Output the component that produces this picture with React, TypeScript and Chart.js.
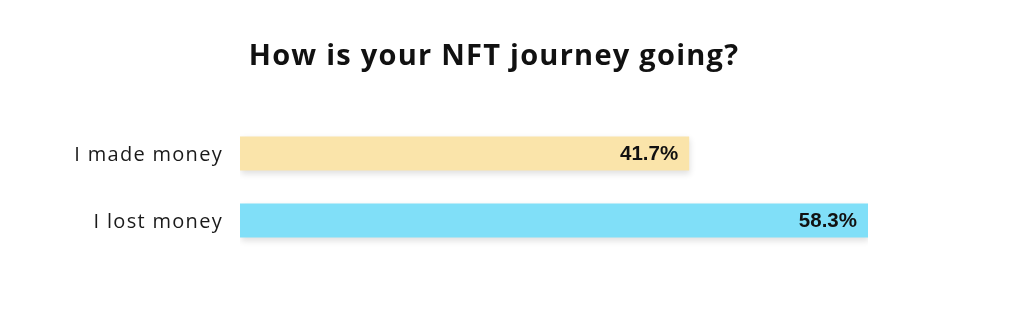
import React, { useEffect, useRef } from "react";
import { Chart, registerables } from "chart.js";

Chart.register(...registerables);

const titleText = "How is your NFT journey going?";
const categories = ["I made money", "I lost money"];
const values = [41.7, 58.3];
const valueLabels = ["41.7%", "58.3%"];
const barColors = ["#FAE4AA", "#80DFF8"];

const spacingPlugin = {
  id: "tickSpacing",
  beforeDraw(chart: any) {
    chart.ctx.letterSpacing = "1.3px";
  },
  beforeDatasetsDraw(chart: any) {
    chart.ctx.letterSpacing = "0px";
  },
};

const shadowPlugin = {
  id: "barShadow",
  beforeDatasetsDraw(chart: any) {
    const ctx = chart.ctx;
    ctx.save();
    ctx.shadowColor = "rgba(0,0,0,0.12)";
    ctx.shadowBlur = 6;
    ctx.shadowOffsetX = 1;
    ctx.shadowOffsetY = 3;
  },
  afterDatasetsDraw(chart: any) {
    chart.ctx.restore();
  },
};

const valueLabelPlugin = {
  id: "valueLabels",
  afterDatasetsDraw(chart: any) {
    const ctx = chart.ctx;
    const meta = chart.getDatasetMeta(0);
    ctx.save();
    ctx.letterSpacing = "0px";
    ctx.font = "bold 20.5px 'Liberation Sans', Arial, sans-serif";
    ctx.fillStyle = "#111111";
    ctx.textAlign = "right";
    ctx.textBaseline = "middle";
    meta.data.forEach((bar: any, i: number) => {
      ctx.fillText(valueLabels[i], bar.x - 11, bar.y + 1);
    });
    ctx.restore();
  },
};

const titlePlugin = {
  id: "customTitle",
  afterDraw(chart: any) {
    const ctx = chart.ctx;
    ctx.save();
    ctx.letterSpacing = "1.25px";
    ctx.font = "bold 29px 'Open Sans', sans-serif";
    ctx.fillStyle = "#111111";
    ctx.textAlign = "center";
    ctx.textBaseline = "alphabetic";
    ctx.fillText(titleText, 494, 65);
    ctx.restore();
  },
};

export default function App() {
  const ref = useRef<HTMLCanvasElement | null>(null);
  useEffect(() => {
    if (!ref.current) return;
    const chart = new Chart(ref.current, {
      type: "bar",
      data: {
        labels: categories,
        datasets: [
          {
            data: values,
            backgroundColor: barColors,
            borderWidth: 0,
            barPercentage: 0.51,
            categoryPercentage: 1,
          },
        ],
      },
      options: {
        indexAxis: "y",
        animation: false,
        responsive: false,
        maintainAspectRatio: false,
        layout: { padding: { left: 0, right: 156, top: 120, bottom: 58 } },
        plugins: {
          legend: { display: false },
          tooltip: { enabled: false },
          title: { display: false },
        },
        scales: {
          x: {
            display: false,
            min: 0,
            max: 58.3,
            grid: { display: false },
          },
          y: {
            grid: { display: false },
            border: { display: false },
            ticks: {
              color: "#1a1a1a",
              padding: 9,
              labelOffset: 2,
              font: { family: "'Open Sans', sans-serif", size: 20, weight: "normal" },
            },
            afterFit(scale: any) {
              scale.width = 240;
            },
          },
        },
      },
      plugins: [spacingPlugin, shadowPlugin, valueLabelPlugin, titlePlugin],
    } as any);
    return () => chart.destroy();
  }, []);
  return (
    <div style={{ position: "absolute", left: 0, top: 0, width: 1024, height: 312, background: "#fff" }}>
      <canvas ref={ref} width={1024} height={312} style={{ width: 1024, height: 312 }} />
    </div>
  );
}
